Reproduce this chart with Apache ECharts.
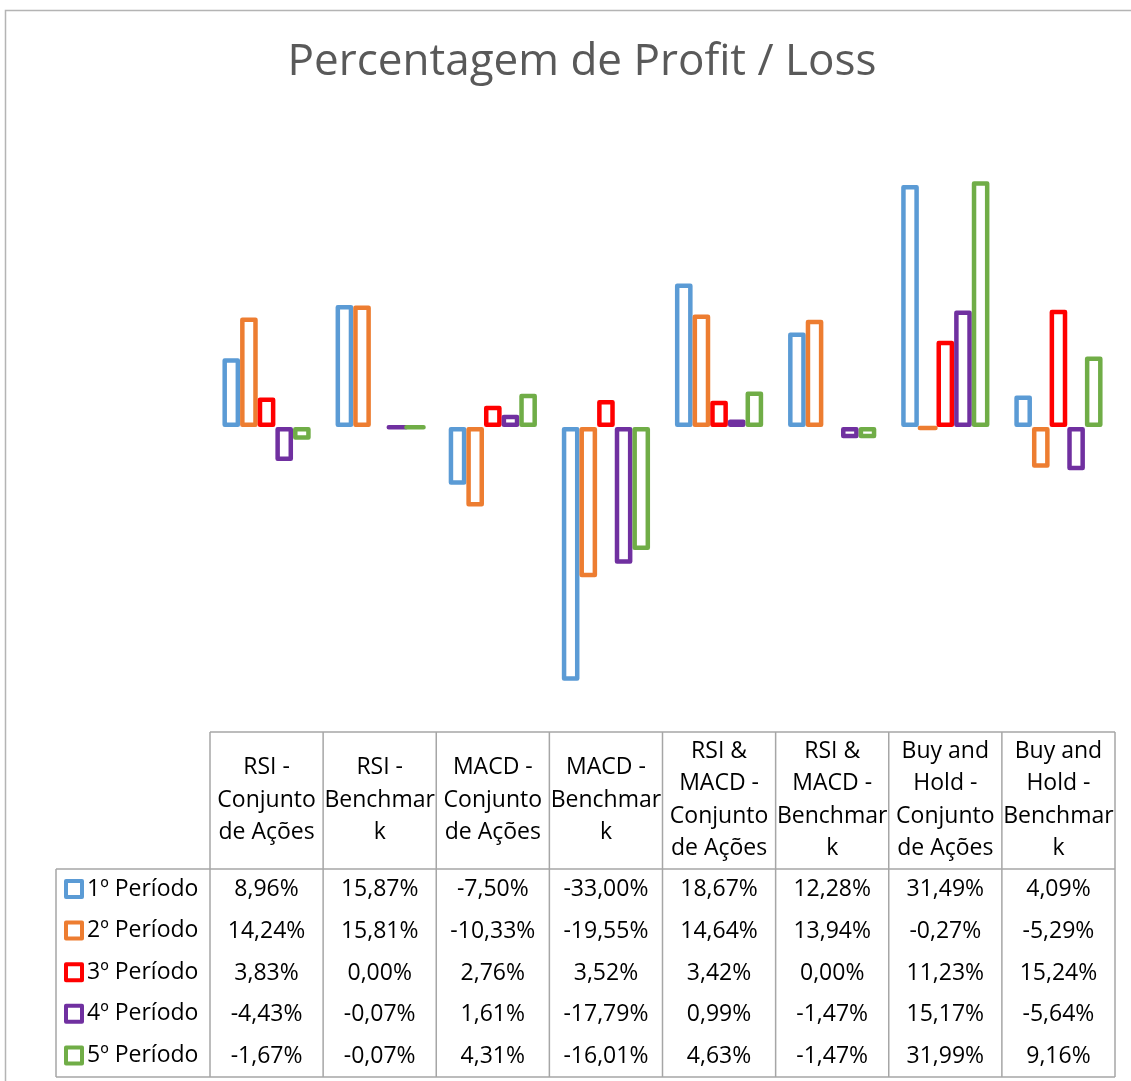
<!DOCTYPE html>
<html>
<head>
<meta charset="utf-8">
<script src="https://cdn.jsdelivr.net/npm/echarts@6/dist/echarts.min.js"></script>
<style>
  html, body { margin: 0; padding: 0; background: #fff; }
  #chart { width: 1131px; height: 1081px; }
</style>
</head>
<body>
<div id="chart"></div>
<script>
// category headers (wrapped as in the data table)
const categories = [
  'RSI -\nConjunto\nde Ações',
  'RSI -\nBenchmar\nk',
  'MACD -\nConjunto\nde Ações',
  'MACD -\nBenchmar\nk',
  'RSI &\nMACD -\nConjunto\nde Ações',
  'RSI &\nMACD -\nBenchmar\nk',
  'Buy and\nHold -\nConjunto\nde Ações',
  'Buy and\nHold -\nBenchmar\nk'
];
const periods = ['1º Período', '2º Período', '3º Período', '4º Período', '5º Período'];

// profit / loss in %
const period1 = [8.96, 15.87, -7.50, -33.00, 18.67, 12.28, 31.49, 4.09];
const period2 = [14.24, 15.81, -10.33, -19.55, 14.64, 13.94, -0.27, -5.29];
const period3 = [3.83, 0.00, 2.76, 3.52, 3.42, 0.00, 11.23, 15.24];
const period4 = [-4.43, -0.07, 1.61, -17.79, 0.99, -1.47, 15.17, -5.64];
const period5 = [-1.67, -0.07, 4.31, -16.01, 4.63, -1.47, 31.99, 9.16];
const seriesValues = [period1, period2, period3, period4, period5];

const colors = ['#5B9BD5', '#ED7D31', '#FF0000', '#7030A0', '#70AD47'];

const FONT = '"Open Sans", "Noto Sans", sans-serif';
const GRID_LEFT = 210, GRID_RIGHT = 16;
const TABLE_TOP = 732, HEADER_BOTTOM = 869, TABLE_BOTTOM = 1077, LEGEND_LEFT = 56;
const LINE = '#a6a6a6';

const chart = echarts.init(document.getElementById('chart'));

const fmt = v => v.toFixed(2).replace('.', ',') + '%';

chart.setOption({
  animation: false,
  backgroundColor: '#fff',
  title: {
    text: 'Percentagem de Profit / Loss',
    left: 577,
    top: 35,
    textAlign: 'center',
    textStyle: { fontFamily: FONT, fontSize: 44, fontWeight: 'normal', color: '#595959' }
  },
  legend: {
    orient: 'vertical',
    left: 64,
    top: 877,
    padding: 0,
    itemWidth: 16,
    itemHeight: 16,
    itemGap: 17.6,
    icon: 'rect',
    selectedMode: false,
    textStyle: { fontFamily: FONT, fontSize: 23, lineHeight: 24, color: '#000' },
    data: periods.map((p, i) => ({
      name: p,
      itemStyle: { color: '#fff', borderColor: colors[i], borderWidth: 4 }
    }))
  },
  grid: { left: GRID_LEFT, right: GRID_RIGHT, top: 158, height: 538 },
  xAxis: {
    type: 'category',
    data: categories,
    axisLine: { show: false },
    axisTick: { show: false },
    splitLine: { show: false },
    axisLabel: {
      interval: 0,
      margin: 104,
      verticalAlign: 'middle',
      fontFamily: FONT,
      fontSize: 23,
      lineHeight: 32.5,
      color: '#000'
    }
  },
  yAxis: {
    type: 'value',
    min: -35,
    max: 35,
    show: false,
    splitLine: { show: false }
  },
  series: seriesValues.map((vals, i) => ({
    name: periods[i],
    type: 'bar',
    barGap: '0%',
    barCategoryGap: '22%',
    itemStyle: { color: '#fff', borderColor: colors[i], borderWidth: 4.5, borderJoin: 'round' },
    data: vals.map(v => v === 0 ? { value: v, itemStyle: { borderWidth: 0 } } : v)
  }))
});

// data table under the plot
const band = (1131 - GRID_LEFT - GRID_RIGHT) / categories.length;
const xRight = GRID_LEFT + band * categories.length;
const rowH = (TABLE_BOTTOM - HEADER_BOTTOM) / periods.length;
const elements = [];
const line = (x1, y1, x2, y2) => elements.push({
  type: 'line', silent: true,
  shape: { x1, y1, x2, y2 },
  style: { stroke: LINE, lineWidth: 1.5 }
});

// outer chart border
elements.push({
  type: 'rect', silent: true,
  shape: { x: 5.5, y: 10.5, width: 1200, height: 1200 },
  style: { fill: 'none', stroke: '#b4b4b4', lineWidth: 1.5 }
});

line(GRID_LEFT, TABLE_TOP, xRight, TABLE_TOP);
line(LEGEND_LEFT, HEADER_BOTTOM, xRight, HEADER_BOTTOM);
line(LEGEND_LEFT, TABLE_BOTTOM, xRight, TABLE_BOTTOM);
line(LEGEND_LEFT, HEADER_BOTTOM, LEGEND_LEFT, TABLE_BOTTOM);
for (let c = 0; c <= categories.length; c++) {
  const x = GRID_LEFT + band * c;
  line(x, TABLE_TOP, x, TABLE_BOTTOM);
}

seriesValues.forEach((vals, r) => {
  vals.forEach((v, c) => {
    const cx = chart.convertToPixel({ xAxisIndex: 0 }, c);
    elements.push({
      type: 'text', silent: true,
      x: cx,
      y: HEADER_BOTTOM + rowH * (r + 0.5),
      style: {
        text: fmt(v),
        align: 'center',
        verticalAlign: 'middle',
        fontFamily: FONT,
        fontSize: 23,
        fill: '#000'
      }
    });
  });
});

chart.setOption({ graphic: { elements } });
</script>
</body>
</html>
